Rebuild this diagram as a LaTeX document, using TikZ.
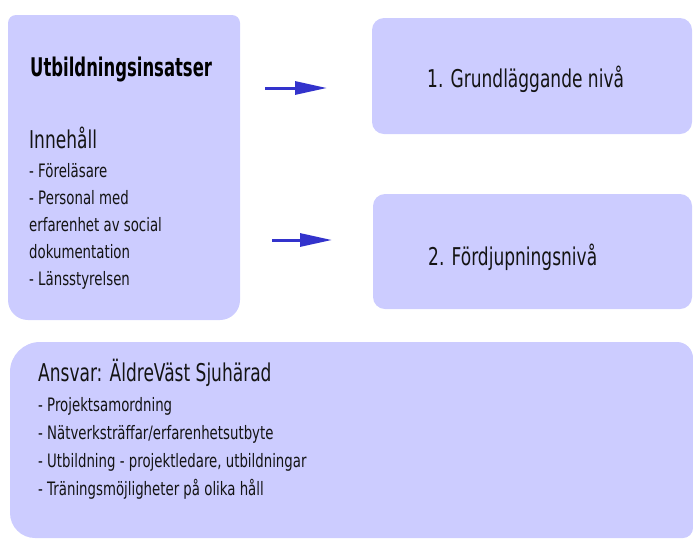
\documentclass[tikz,border=0pt]{standalone}
\usepackage{fontspec}
\newfontfamily\bigfont{DejaVu Sans}[FakeStretch=0.695]
\newfontfamily\smallfont{DejaVu Sans}[FakeStretch=0.72]
\newfontfamily\titlefont{DejaVu Sans}[FakeStretch=0.64]
\usetikzlibrary{arrows.meta}
\definecolor{boxfill}{HTML}{CCCCFF}
\definecolor{arrowblue}{HTML}{3333CC}
\definecolor{txt}{HTML}{141414}
\tikzset{
  box/.style={fill=boxfill, draw=none},
  bigtxt/.style={anchor=base west, inner sep=0pt, text=txt, font=\bigfont\fontsize{24.5}{28}\selectfont},
  smalltxt/.style={anchor=base west, inner sep=0pt, text=txt, font=\smallfont\fontsize{18.5}{22}\selectfont},
  titletxt/.style={anchor=base west, inner sep=0pt, text=black, font=\titlefont\bfseries\fontsize{25.7}{30}\selectfont},
  flowarrow/.style={draw=arrowblue, line width=3pt, -{Triangle[length=32pt,width=13pt]}}
}
\begin{document}
\begin{tikzpicture}[x=1pt,y=-1pt]
\useasboundingbox (0,0) rectangle (693,539);
% left box
\path[box] (8,170) [rounded corners=8pt] -- (8,15) -- (240,15) -- (240,170)
  [rounded corners=20pt] -- (240,320) -- (8,320) -- (8,170) -- cycle;
% right boxes
\path[box, rounded corners=12pt] (372,18) rectangle (692,134);
\path[box, rounded corners=12pt] (373,194) rectangle (692,309);
% bottom box
\path[box] (350,342) [rounded corners=16pt] -- (693,342) -- (693,440)
  [rounded corners=10pt] -- (693,538) -- (350,538)
  [rounded corners=25pt] -- (10,538) -- (10,440)
  [rounded corners=30pt] -- (10,342) -- cycle;

% left box text
\node[titletxt] (title) at (30,76) {Utbildningsinsatser};
\node[bigtxt] (inneh) at (29,148) {Innehåll};
\node[smalltxt] (l1) at (29,177) {- Föreläsare};
\node[smalltxt] (l2) at (29,204) {- Personal med};
\node[smalltxt] (l3) at (29,231) {erfarenhet av social};
\node[smalltxt] (l4) at (29,258) {dokumentation};
\node[smalltxt] (l5) at (29,285) {- Länsstyrelsen};

% right box text
\node[bigtxt] (niva1) at (427,87) {1. Grundläggande nivå};
\node[bigtxt] (niva2) at (428,265) {2. Fördjupningsnivå};

% bottom text
\node[bigtxt] (ansvar) at (38,381) {Ansvar: ÄldreVäst Sjuhärad};
\node[smalltxt] (b1) at (38,411) {- Projektsamordning};
\node[smalltxt] (b2) at (38,439) {- Nätverksträffar/erfarenhetsutbyte};
\node[smalltxt] (b3) at (38,467) {- Utbildning - projektledare, utbildningar};
\node[smalltxt] (b4) at (38,495) {- Träningsmöjligheter på olika håll};

% arrows
\coordinate (a1s) at (265,88);
\coordinate (a1e) at (327,88);
\coordinate (a2s) at (272,240);
\coordinate (a2e) at (332,240);
\draw[flowarrow] (a1s) -- (a1e);
\draw[flowarrow] (a2s) -- (a2e);
\end{tikzpicture}
\end{document}
